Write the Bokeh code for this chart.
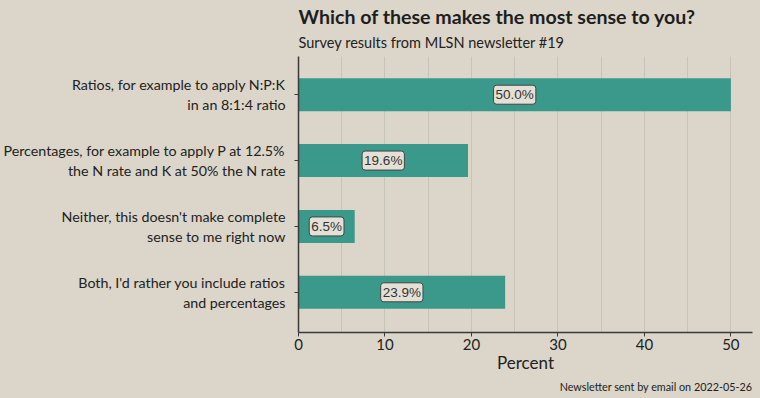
from bokeh.plotting import figure
from bokeh.models import ColumnDataSource, Range1d, FixedTicker, Title
from bokeh.core.properties import value
from bokeh.embed import file_html
from bokeh.resources import INLINE

categories = [
    "Ratios, for example to apply N:P:K\nin an 8:1:4 ratio",
    "Percentages, for example to apply P at 12.5%\nthe N rate and K at 50% the N rate",
    "Neither, this doesn't make complete\nsense to me right now",
    "Both, I'd rather you include ratios\nand percentages",
]
percents = [50.0, 19.6, 6.5, 23.9]
x_ticks = [0, 10, 20, 30, 40, 50]
x_minor = [5, 15, 25, 35, 45]

BG = "#dbd6c9"
n = len(categories)
ypos = [n - 1 - i for i in range(n)]
src = ColumnDataSource(dict(
    y=ypos,
    pct=percents,
    mid=[v / 2 for v in percents],
    lab=[f"{v:.1f}%" for v in percents],
))

p = figure(width=760, height=398, output_backend="svg", toolbar_location=None,
           x_range=Range1d(0, 52.5), y_range=Range1d(-0.61, n - 1 + 0.58),
           background_fill_color=BG, border_fill_color=BG, outline_line_color=None,
           min_border_left=8, min_border_right=8, min_border_top=0, min_border_bottom=0)

p.title.text = "Which of these makes the most sense to you?"
p.title.text_font = "Lato"
p.title.text_font_size = "19.6px"
p.title.text_font_style = "bold"
p.title.text_color = "#1e1e1e"
p.title.align = "left"
p.title.offset = 0
p.title.standoff = 5
p.add_layout(Title(text="Survey results from MLSN newsletter #19", text_font="Lato",
                   text_font_size="14.5px", text_font_style="normal", text_color="#222",
                   align="left", vertical_align="top", text_line_height=1.5,
                   standoff=7), "above")

p.hbar(y="y", right="pct", left=0, height=0.5, source=src,
       fill_color="#3a998b", line_color=None)

p.text(x="mid", y="y", text="lab", source=src,
       text_align="center", text_baseline="middle",
       text_font=value("Liberation Sans"), text_font_size="13.5px", text_color="#333",
       background_fill_color="#e4e0d5", border_line_color="#444",
       border_line_width=1, border_radius=3, padding=2)

# x axis
p.xaxis.ticker = FixedTicker(ticks=x_ticks, minor_ticks=x_minor)
p.xaxis.axis_label = "Percent"
p.xaxis.axis_label_text_font = "Lato"
p.xaxis.axis_label_text_font_size = "17px"
p.xaxis.axis_label_text_font_style = "normal"
p.xaxis.axis_label_text_color = "#222"
p.xaxis.axis_label_standoff = -1
p.xaxis.axis_label_text_line_height = 1.0
p.xaxis.major_label_text_font = "Lato"
p.xaxis.major_label_text_font_size = "15px"
p.xaxis.major_label_text_color = "#222"
p.xaxis.major_label_standoff = 2
p.xaxis.minor_tick_line_color = None
p.xaxis.major_tick_in = 0
p.xaxis.major_tick_out = 4
p.xaxis.axis_line_color = "#3a3a3a"
p.xaxis.axis_line_width = 1.5
p.xaxis.major_tick_line_color = "#3a3a3a"

# y axis
p.yaxis.ticker = FixedTicker(ticks=ypos)
p.yaxis.major_label_overrides = {y: c for y, c in zip(ypos, categories)}
p.yaxis.major_label_text_font = "Lato"
p.yaxis.major_label_text_font_size = "14.25px"
p.yaxis.major_label_text_color = "#222"
p.yaxis.major_label_text_align = "right"
p.yaxis.major_label_standoff = 9
p.yaxis.minor_tick_line_color = None
p.yaxis.major_tick_in = 0
p.yaxis.major_tick_out = 4
p.yaxis.axis_line_color = "#3a3a3a"
p.yaxis.axis_line_width = 1.5
p.yaxis.major_tick_line_color = "#3a3a3a"

p.ygrid.grid_line_color = None
p.xgrid.grid_line_color = "#c6c3b8"
p.xgrid.grid_line_width = 1
p.xgrid.minor_grid_line_color = "#c6c3b8"
p.xgrid.minor_grid_line_width = 1

p.add_layout(Title(text="Newsletter sent by email on 2022-05-26", text_font="Lato",
                   text_font_size="10.8px", text_font_style="normal", text_color="#222",
                   align="right", vertical_align="top", text_line_height=1.0,
                   standoff=8), "below")

html = file_html(p, INLINE)
html = html.replace("</head>", "<style>html, body { background-color: %s; }</style></head>" % BG, 1)
open("out.html", "w").write(html)
